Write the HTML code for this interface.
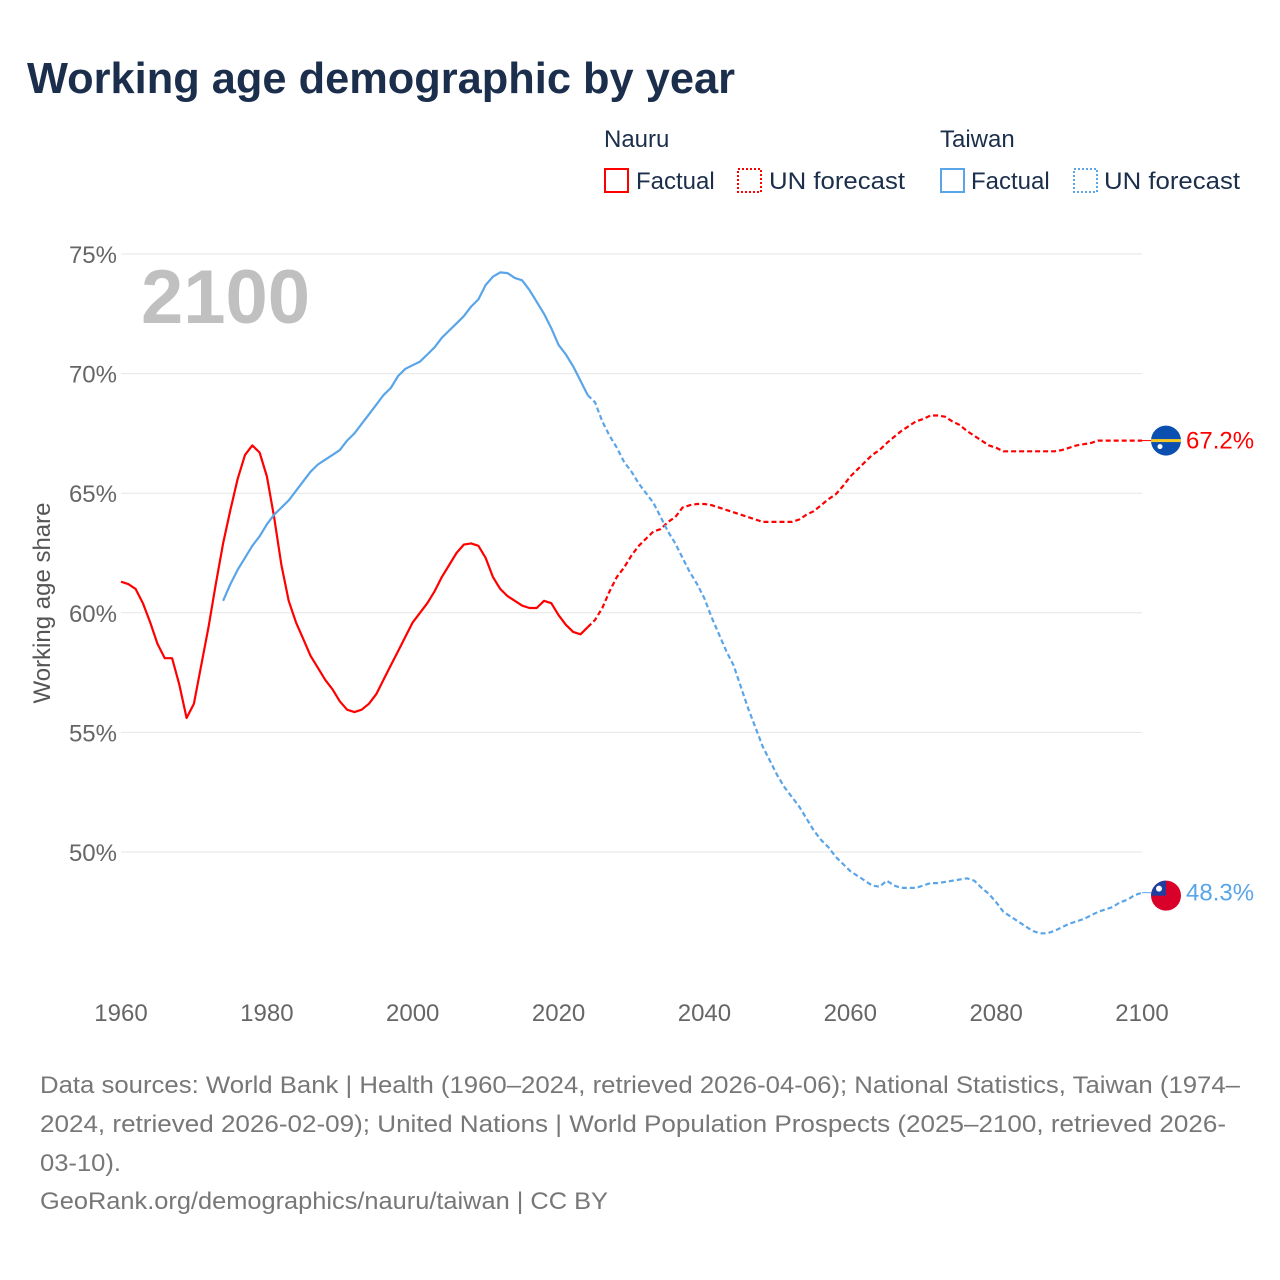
<!DOCTYPE html>
<html><head><meta charset="utf-8"><style>
body{margin:0;background:#fff;width:1280px;height:1280px;overflow:hidden;font-family:"Liberation Sans",sans-serif}
svg{display:block}
</style></head><body>
<svg id="chart" width="1280" height="1280" viewBox="0 0 1280 1280" xmlns="http://www.w3.org/2000/svg">
<text x="27" y="93" font-size="44" font-weight="bold" fill="#1b2e4b" textLength="708" lengthAdjust="spacingAndGlyphs">Working age demographic by year</text>
<g font-size="24" fill="#1b2e4b">
<text x="604" y="147">Nauru</text>
<rect x="605" y="169" width="23" height="23" fill="none" stroke="#f00" stroke-width="2"/>
<text x="636" y="189">Factual</text>
<rect x="738" y="169" width="23" height="23" fill="none" stroke="#f00" stroke-width="2" stroke-dasharray="2,2"/>
<text x="769" y="189" textLength="136" lengthAdjust="spacingAndGlyphs">UN forecast</text>
<text x="940" y="147">Taiwan</text>
<rect x="941" y="169" width="23" height="23" fill="none" stroke="#5aa5e8" stroke-width="2"/>
<text x="971" y="189">Factual</text>
<rect x="1074" y="169" width="23" height="23" fill="none" stroke="#5aa5e8" stroke-width="2" stroke-dasharray="2,2"/>
<text x="1104" y="189" textLength="136" lengthAdjust="spacingAndGlyphs">UN forecast</text>
</g>
<g id="grid"></g>
<text x="141" y="323" font-size="76" font-weight="bold" fill="#c0c0c0">2100</text>
<text transform="translate(50,603) rotate(-90)" text-anchor="middle" font-size="24" fill="#555">Working age share</text>
<g id="series"></g>
<g id="ends"></g>
<g font-size="24" fill="#777">
<text x="40" y="1093" textLength="1200" lengthAdjust="spacingAndGlyphs">Data sources: World Bank | Health (1960–2024, retrieved 2026-04-06); National Statistics, Taiwan (1974–</text>
<text x="40" y="1132" textLength="1186" lengthAdjust="spacingAndGlyphs">2024, retrieved 2026-02-09); United Nations | World Population Prospects (2025–2100, retrieved 2026-</text>
<text x="40" y="1171" textLength="81" lengthAdjust="spacingAndGlyphs">03-10).</text>
<text x="40" y="1209" textLength="568" lengthAdjust="spacingAndGlyphs">GeoRank.org/demographics/nauru/taiwan | CC BY</text>
</g>
</svg>
<script>
const yTicks=[50,55,60,65,70,75];
const xTicks=[1960,1980,2000,2020,2040,2060,2080,2100];
const nauruStart=1960;
const nauruFactual=[61.3,61.2,61.0,60.4,59.6,58.7,58.1,58.1,57.0,55.6,56.2,57.8,59.4,61.2,62.9,64.3,65.6,66.6,67.0,66.7,65.7,64.0,62.0,60.5,59.6,58.9,58.2,57.7,57.2,56.8,56.3,55.95,55.85,55.95,56.2,56.6,57.2,57.8,58.4,59.0,59.6,60.0,60.4,60.9,61.5,62.0,62.5,62.85,62.9,62.8,62.3,61.5,61.0,60.7,60.5,60.3,60.2,60.2,60.5,60.4,59.9,59.5,59.2,59.1,59.4];
const nauruForecast=[59.7,60.2,60.9,61.5,61.9,62.4,62.8,63.1,63.4,63.5,63.8,64.0,64.4,64.5,64.55,64.55,64.5,64.4,64.3,64.2,64.1,64.0,63.9,63.8,63.8,63.8,63.8,63.8,63.9,64.1,64.25,64.5,64.75,64.95,65.3,65.7,66.0,66.3,66.6,66.8,67.1,67.35,67.6,67.8,68.0,68.1,68.25,68.25,68.2,68.0,67.85,67.6,67.4,67.2,67.0,66.9,66.75,66.75,66.75,66.75,66.75,66.75,66.75,66.75,66.8,66.9,67.0,67.05,67.1,67.2,67.2,67.2,67.2,67.2,67.2,67.2];
const taiwanStart=1974;
const taiwanFactual=[60.5,61.2,61.8,62.3,62.8,63.2,63.7,64.1,64.4,64.7,65.1,65.5,65.9,66.2,66.4,66.6,66.8,67.2,67.5,67.9,68.3,68.7,69.1,69.4,69.9,70.2,70.35,70.5,70.8,71.1,71.5,71.8,72.1,72.4,72.8,73.1,73.7,74.05,74.23,74.2,74.0,73.9,73.5,73.0,72.5,71.9,71.2,70.8,70.3,69.7,69.1];
const taiwanForecast=[68.8,68.0,67.4,66.9,66.3,65.9,65.4,65.0,64.6,64.0,63.4,62.9,62.3,61.7,61.2,60.6,59.8,59.1,58.4,57.8,56.9,56.0,55.2,54.4,53.8,53.2,52.7,52.3,51.9,51.4,50.9,50.5,50.2,49.8,49.5,49.2,49.0,48.8,48.6,48.55,48.8,48.6,48.5,48.5,48.5,48.6,48.7,48.7,48.75,48.8,48.85,48.9,48.8,48.5,48.25,47.9,47.5,47.3,47.1,46.9,46.7,46.6,46.6,46.7,46.85,47.0,47.1,47.2,47.35,47.5,47.6,47.7,47.9,48.0,48.2,48.3];

const NS='http://www.w3.org/2000/svg';
const X=y=>121+(y-1960)*(1142-121)/140;
const Y=v=>254+(75-v)*(852-254)/25;
function mk(tag,attrs,parent){const e=document.createElementNS(NS,tag);for(const k in attrs)e.setAttribute(k,attrs[k]);parent.appendChild(e);return e;}
const grid=document.getElementById('grid');
yTicks.forEach(t=>{
  const l=mk('line',{x1:121,x2:1142,y1:Y(t),y2:Y(t),stroke:'#e6e6e6','stroke-width':1},grid);
  
  
  const tx=mk('text',{x:117,y:Y(t)+9,'text-anchor':'end','font-size':24,fill:'#666'},grid);
  tx.textContent=t+'%';
  
  
});
xTicks.forEach(t=>{
  const tx=mk('text',{x:X(t),y:1021,'text-anchor':'middle','font-size':24,fill:'#666'},grid);
  tx.textContent=t;
  
  
});
const ser=document.getElementById('series');
function line(vals,start,color,dash,name,prev){
  let pts=vals.map((v,i)=>X(start+i).toFixed(1)+','+Y(v).toFixed(1));
  if(prev)pts.unshift(X(prev[0]).toFixed(1)+','+Y(prev[1]).toFixed(1));
  const p=mk('polyline',{points:pts.join(' '),fill:'none',stroke:color,'stroke-width':2.2,'stroke-linejoin':'round'},ser);
  if(dash)p.setAttribute('stroke-dasharray','5,3');
  
  
}
const red='#f00',blue='#5aa5e8';
line(nauruFactual,nauruStart,red,false,'nauru-factual-line');
line(nauruForecast,2025,red,true,'nauru-forecast-line',[2024,nauruFactual[nauruFactual.length-1]]);
line(taiwanFactual,taiwanStart,blue,false,'taiwan-factual-line');
line(taiwanForecast,2025,blue,true,'taiwan-forecast-line',[2024,taiwanFactual[taiwanFactual.length-1]]);

const ends=document.getElementById('ends');
function endMark(val,color,name,flag){
  const y=Y(val);
  const l=mk('line',{x1:X(2100),x2:1151,y1:y,y2:y,stroke:color,'stroke-width':1},ends);
  
  
  const g=mk('g',{transform:'translate(1166,'+(flag==='tw'?y+3:y)+')'},ends);
  
  
  const cp=mk('clipPath',{id:'cp'+flag},g);mk('circle',{r:15},cp);
  const c=mk('g',{'clip-path':'url(#cp'+flag+')'},g);
  if(flag==='nr'){
    mk('rect',{x:-16,y:-16,width:32,height:32,fill:'#0b4fb0'},c);
    mk('rect',{x:-16,y:-1.5,width:32,height:3,fill:'#f6c623'},c);
    mk('circle',{cx:-6,cy:6,r:2.5,fill:'#fff'},c);
  }else{
    mk('rect',{x:-16,y:-16,width:32,height:32,fill:'#d9002a'},c);
    mk('rect',{x:-16,y:-16,width:16,height:16,fill:'#1f3fa0'},c);
    mk('circle',{cx:-7,cy:-7,r:3,fill:'#fff'},c);
  }
  const t=mk('text',{x:1186,y:y+8,'font-size':24,fill:color},ends);
  t.textContent=val.toFixed(1)+'%';
  
  
}
endMark(nauruForecast[nauruForecast.length-1],red,'nauru','nr');
endMark(taiwanForecast[taiwanForecast.length-1],blue,'taiwan','tw');
</script>
</body></html>
